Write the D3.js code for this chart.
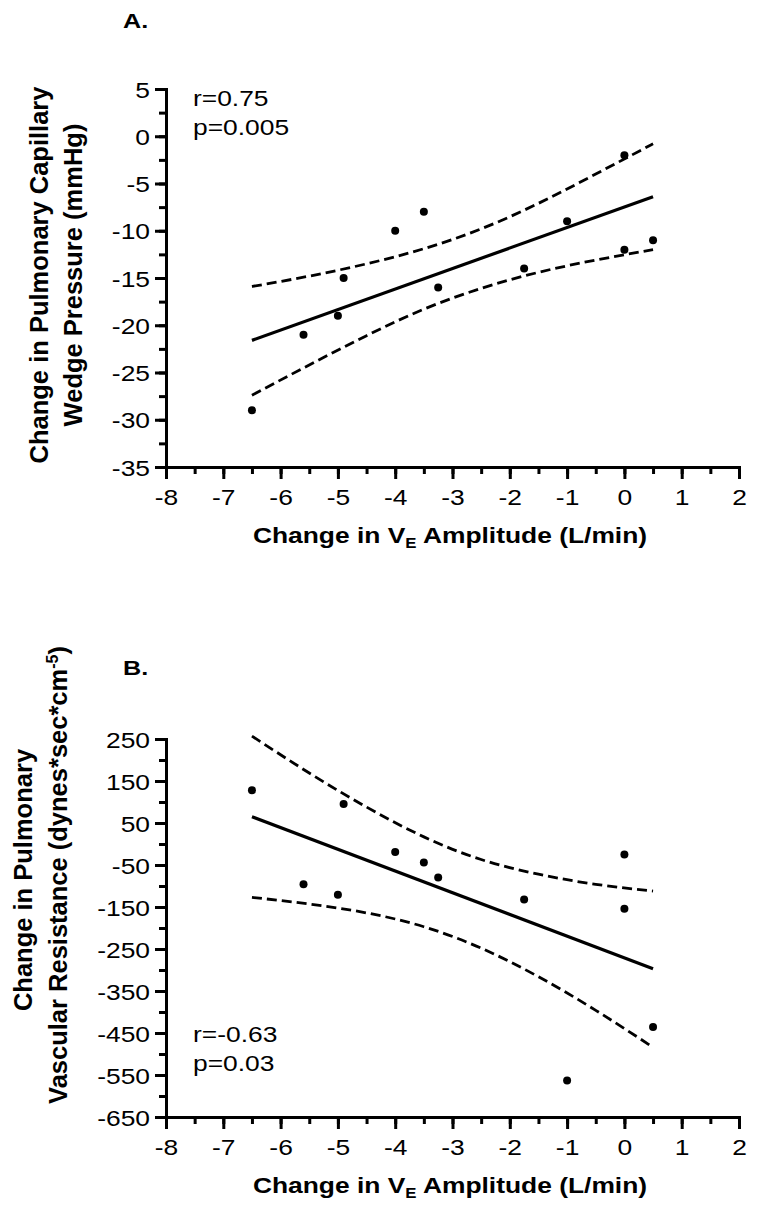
<!DOCTYPE html>
<html><head><meta charset="utf-8">
<script src="https://cdn.jsdelivr.net/npm/d3@7/dist/d3.min.js"></script>
<style>
body{margin:0;background:#fff}
text{font-family:"Liberation Sans",Arial,Helvetica,sans-serif;fill:#000}
</style>
</head><body>
<svg id="chart" width="759" height="1219"></svg>
<script>
// ---- data ----
const veChange = [-6.5,-5.6,-5.0,-4.9,-4.0,-3.5,-3.25,-1.75,-1.0,0.0,0.0,0.5];
const pcwpChange = [-29,-21,-19,-15,-10,-8,-16,-14,-9,-2,-12,-11];
const pvrChange = [128,-96,-121,95,-19,-44,-80,-132,-563,-25,-154,-436];

const fitX = [-6.5, 0.5];
const pcwpFit = [-21.6, -6.4];
const pvrFit = [65, -297];

const bandX = [-6.5,-5.5,-4.5,-3.5,-2.5,-1.5,-0.5,0.5];
const pcwpUpper = [-15.9,-14.8,-13.5,-11.9,-9.8,-7.1,-4.0,-0.8];
const pcwpLower = [-27.4,-24.2,-21.1,-18.3,-16.1,-14.4,-13.1,-12.0];
const pvrUpper = [257,169,88,17,-37,-72,-96,-112];
const pvrLower = [-127,-143,-164,-197,-248,-316,-396,-484];

const xTicks = [-8,-7,-6,-5,-4,-3,-2,-1,0,1,2];
const pcwpTicks = [5,0,-5,-10,-15,-20,-25,-30,-35];
const pvrTicks = [250,150,50,-50,-150,-250,-350,-450,-550,-650];

const SX = 1.2; // horizontal stretch of the original figure

const svg = d3.select("#chart");

function stretchedText(g, x, y, str, opts) {
  const sx = opts.rotate ? 1 : SX;
  const t = g.append("text")
    .attr("transform", `translate(${x},${y}) scale(${sx},1)` + (opts.rotate ? " rotate(-90)" : ""))
    .attr("text-anchor", opts.anchor || "start")
    .style("font-size", (opts.size || 22) + "px")
    .style("font-weight", opts.bold ? "bold" : "normal");
  if (typeof str === "string") t.text(str);
  else str(t);
  return t;
}

function panel(cfg) {
  const g = svg.append("g");
  const x = d3.scaleLinear().domain([-8, 2]).range([166, 739]);
  const y = d3.scaleLinear().domain(cfg.domain).range([cfg.bottom, cfg.top]);
  const fmt = d => String(d);

  const minorX = d3.range(-8, 2.001, 0.5);
  const minorY = d3.range(cfg.domain[0], cfg.domain[1] + 0.001, cfg.minor);

  const xAxisMinor = g.append("g").attr("transform", `translate(0,${cfg.bottom})`)
    .call(d3.axisBottom(x).tickValues(minorX).tickSize(7).tickSizeOuter(0).tickFormat(""));
  const yAxisMinor = g.append("g").attr("transform", `translate(166,0)`)
    .call(d3.axisLeft(y).tickValues(minorY).tickSize(7).tickSizeOuter(0).tickFormat(""));

  const xAxis = g.append("g").attr("transform", `translate(0,${cfg.bottom})`)
    .call(d3.axisBottom(x).tickValues(xTicks).tickSize(12).tickSizeOuter(0).tickFormat(fmt));
  const yAxis = g.append("g").attr("transform", `translate(166,0)`)
    .call(d3.axisLeft(y).tickValues(cfg.ticks).tickSize(11).tickSizeOuter(0).tickFormat(fmt));

  [xAxisMinor, yAxisMinor, xAxis, yAxis].forEach(a => {
    a.selectAll("path.domain").attr("stroke", "#000").attr("stroke-width", 3).attr("stroke-linecap", "square");
    a.selectAll(".tick line").attr("stroke", "#000").attr("stroke-width", 3);
  });
  xAxis.selectAll(".tick text")
    .attr("y", null).attr("dy", null)
    .attr("transform", `translate(0,38) scale(${SX},1)`)
    .style("font-size", "22px").style("font-family", '"Liberation Sans",Arial,sans-serif');
  yAxis.selectAll(".tick text")
    .attr("x", null).attr("dy", null)
    .attr("transform", `translate(-16,8) scale(${SX},1)`)
    .style("font-size", "22px").style("font-family", '"Liberation Sans",Arial,sans-serif');

  // confidence band (dashed)
  const bandLine = d3.line().x(d => x(d[0])).y(d => y(d[1])).curve(d3.curveNatural);
  [cfg.upper, cfg.lower].forEach(arr => {
    g.append("path").datum(bandX.map((v, i) => [v, arr[i]]))
      .attr("d", bandLine).attr("fill", "none").attr("stroke", "#000")
      .attr("stroke-width", 2.8).attr("stroke-dasharray", "10,5");
  });
  // fit line
  g.append("path").datum(fitX.map((v, i) => [v, cfg.fit[i]]))
    .attr("d", d3.line().x(d => x(d[0])).y(d => y(d[1])))
    .attr("fill", "none").attr("stroke", "#000").attr("stroke-width", 3.2);
  // points
  g.selectAll("circle.pt").data(veChange.map((v, i) => [v, cfg.values[i]]))
    .enter().append("circle").attr("class", "pt")
    .attr("cx", d => x(d[0])).attr("cy", d => y(d[1])).attr("r", 4).attr("fill", "#000");

  stretchedText(g, 123, cfg.letterY, cfg.letter, {bold: true, size: 21});
  stretchedText(g, 193, cfg.statY, cfg.r, {size: 22});
  stretchedText(g, 193, cfg.statY + 29, cfg.p, {size: 22});

  stretchedText(g, 450, cfg.bottom + 76, t => {
    t.append("tspan").text("Change in V");
    t.append("tspan").text("E").style("font-size", "14px").attr("dy", 5);
    t.append("tspan").text(" Amplitude (L/min)").attr("dy", -5);
  }, {bold: true, size: 22, anchor: "middle"});

  cfg.yTitle(g);
}

panel({
  domain: [-35, 5], top: 89, bottom: 467, minor: 2.5, ticks: pcwpTicks,
  values: pcwpChange, fit: pcwpFit, upper: pcwpUpper, lower: pcwpLower,
  letter: "A.", letterY: 28, r: "r=0.75", p: "p=0.005", statY: 106,
  yTitle: g => {
    stretchedText(g, 48, 275, "Change in Pulmonary Capillary", {bold: true, size: 25.5, anchor: "middle", rotate: true});
    stretchedText(g, 81.5, 275, "Wedge Pressure (mmHg)", {bold: true, size: 25.5, anchor: "middle", rotate: true});
  }
});

panel({
  domain: [-650, 250], top: 739, bottom: 1117, minor: 50, ticks: pvrTicks,
  values: pvrChange, fit: pvrFit, upper: pvrUpper, lower: pvrLower,
  letter: "B.", letterY: 675, r: "r=-0.63", p: "p=0.03", statY: 1042,
  yTitle: g => {
    stretchedText(g, 31.5, 880, "Change in Pulmonary", {bold: true, size: 25.5, anchor: "middle", rotate: true});
    stretchedText(g, 66.5, 875, t => {
      t.append("tspan").text("Vascular Resistance (dynes*sec*cm");
      t.append("tspan").text("-5").style("font-size", "16px").attr("dy", -9);
      t.append("tspan").text(")").attr("dy", 9);
    }, {bold: true, size: 25.5, anchor: "middle", rotate: true});
  }
});
</script>
</body></html>
